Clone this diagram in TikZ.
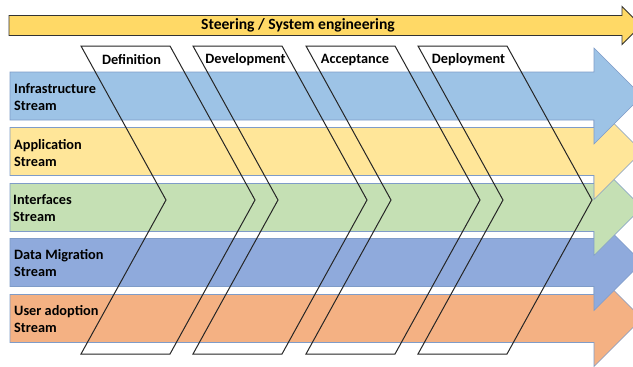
\documentclass[tikz,border=0pt]{standalone}
\usepackage{fontspec}
\setmainfont{Carlito}
\definecolor{cblue}{HTML}{9DC3E6}
\definecolor{cyell}{HTML}{FFE699}
\definecolor{cgreen}{HTML}{C5E0B4}
\definecolor{cdm}{HTML}{8FAADC}
\definecolor{corange}{HTML}{F4B183}
\definecolor{ctop}{HTML}{FFD966}
\definecolor{edge}{HTML}{7F9CC8}
\begin{document}
\begin{tikzpicture}[x=1pt,y=-1pt,
  streamlabel/.style={anchor=west,align=left,inner sep=0pt,font=\bfseries\fontsize{14.3}{17}\selectfont},
  phaselabel/.style={inner sep=0pt,font=\bfseries\fontsize{14.3}{16}\selectfont},
  chev/.style={draw=black!85,line width=1pt,line join=miter},
  streamarrow/.style={draw=edge,line width=0.6pt}]
\useasboundingbox (0,0) rectangle (633,367);
\clip (0,0) rectangle (633,367);
\fill[white] (0,0) rectangle (633,367);
% top arrow
\draw[fill=ctop,draw=black!80,line width=0.9pt] (9,15.5) -- (622,15.5) -- (622,6.5) -- (641,25.5) -- (622,44.5) -- (622,35.5) -- (9,35.5) -- cycle;
\node[inner sep=0pt,font=\bfseries\fontsize{15.6}{18}\selectfont] (steer) at (298,25.5) {Steering / System engineering};
% stream arrows (bottom to top)
\foreach \yc/\col in {318.5/corange,262.5/cdm,207.5/cgreen,151.5/cyell,96/cblue}{
  \draw[streamarrow,fill=\col] (10,\yc-24) -- (594,\yc-24) -- (594,\yc-48) -- (642,\yc) -- (594,\yc+48) -- (594,\yc+24) -- (10,\yc+24) -- cycle;
}
% chevrons
\foreach \a in {81,193,306,418}{
  \draw[chev] (\a,46) -- (\a+85,200) -- (\a,354) -- (\a+89,354) -- (\a+174,200) -- (\a+89,46) -- cycle;
}
\node[phaselabel] (def) at (131.5,59.5) {Definition};
\node[phaselabel] (dev) at (245.5,59.5) {Development};
\node[phaselabel] (acc) at (355,59.5) {Acceptance};
\node[phaselabel] (dep) at (468.5,59.5) {Deployment};
% stream labels
\node[streamlabel] (infra) at (14,97.5) {Infrastructure\\Stream};
\node[streamlabel] (appl) at (14,153) {Application\\Stream};
\node[streamlabel] (intf) at (13,208.5) {Interfaces\\Stream};
\node[streamlabel] (dmig) at (14,263) {Data Migration\\Stream};
\node[streamlabel] (usad) at (14,319.5) {User adoption\\Stream};
\end{tikzpicture}
\end{document}
